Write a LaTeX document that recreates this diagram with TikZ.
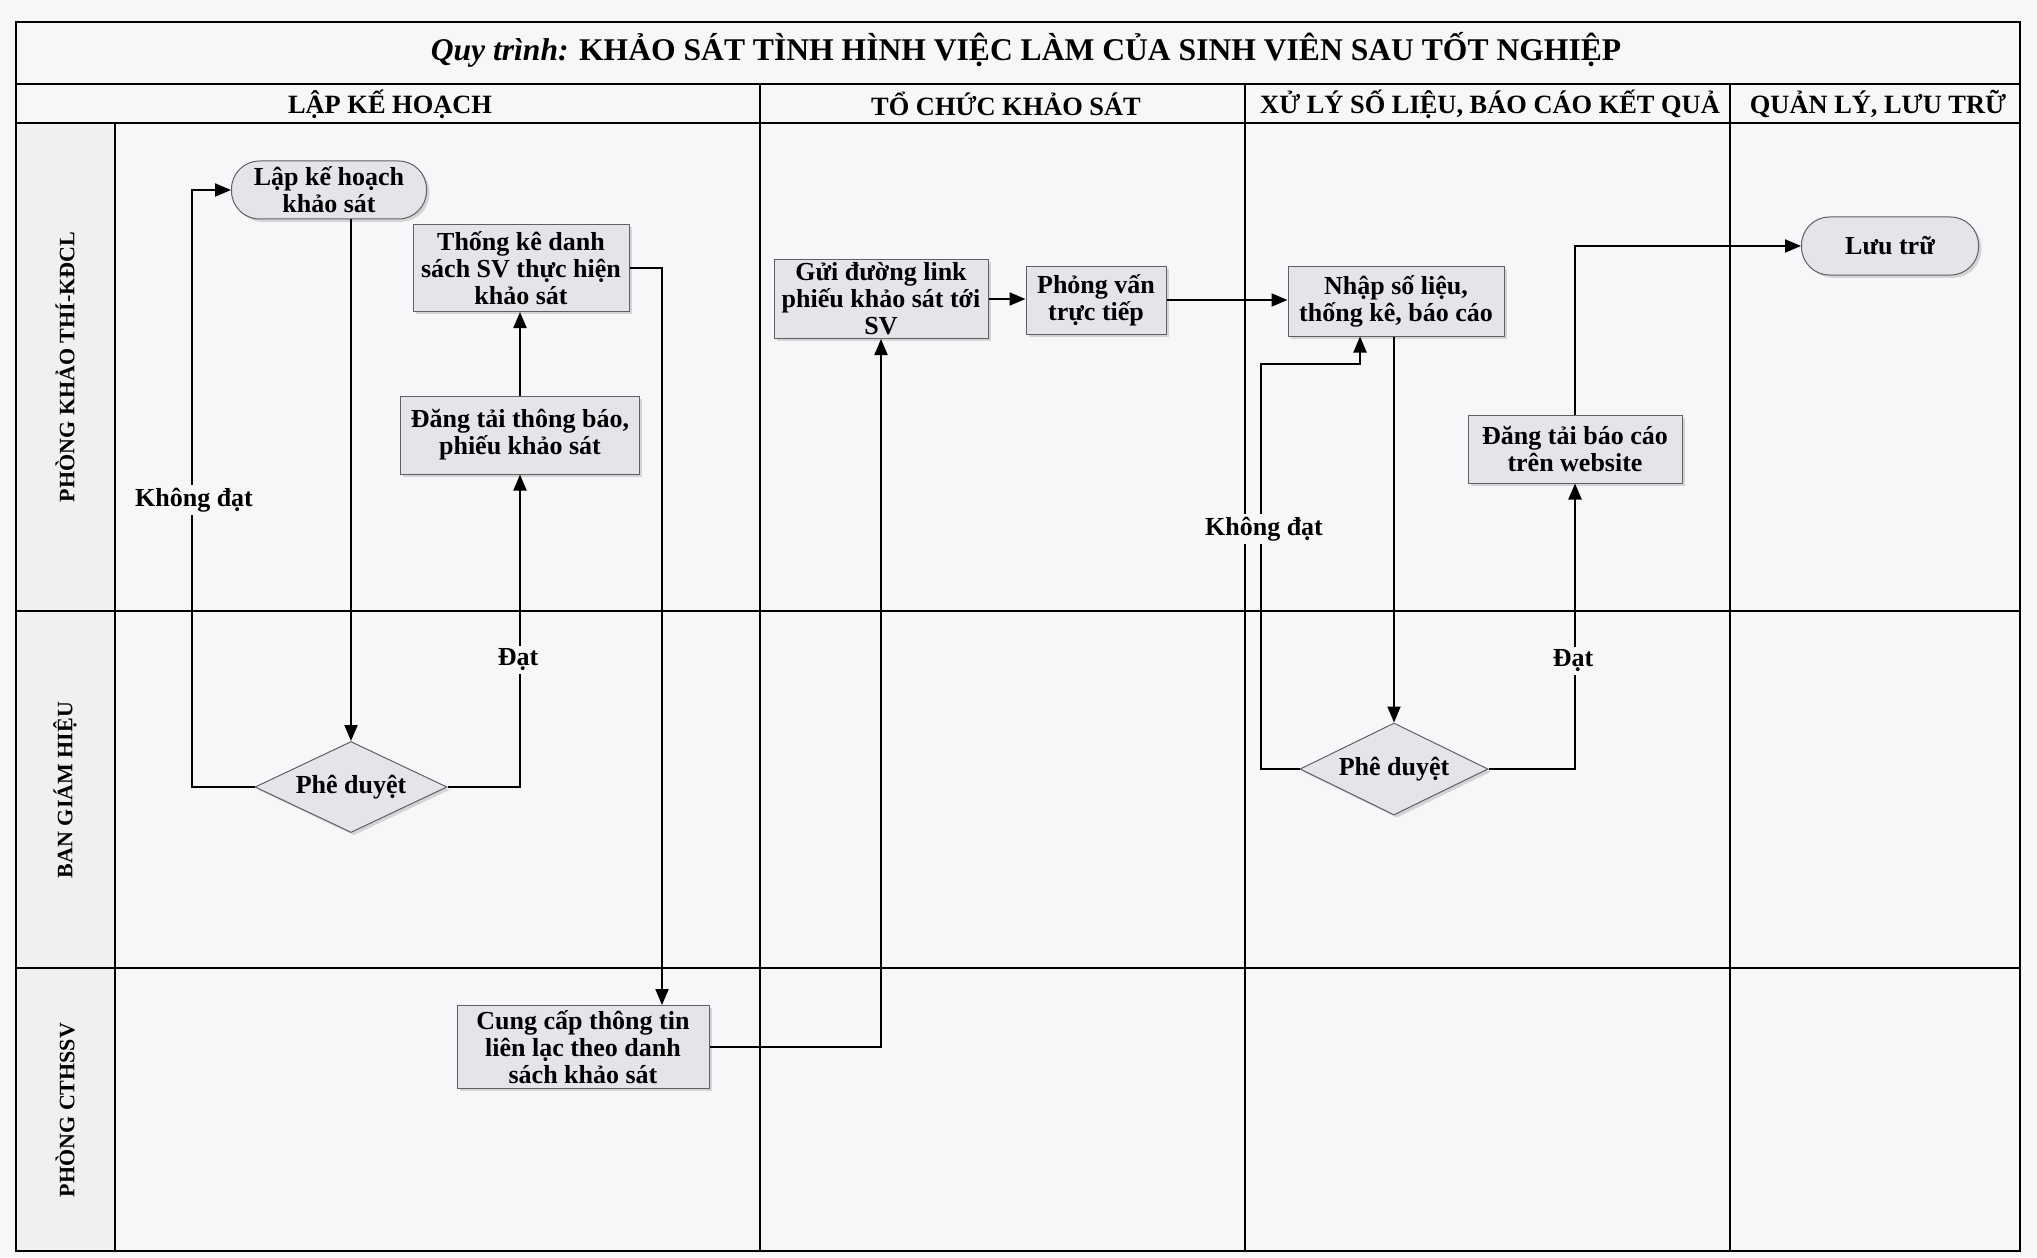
\documentclass[tikz,border=0pt]{standalone}
\usepackage{fontspec}
\setmainfont{Liberation Serif}
\usetikzlibrary{shapes.geometric,shadows,arrows.meta}
\definecolor{paper}{RGB}{247,247,249}
\definecolor{boxfill}{RGB}{228,228,234}
\definecolor{lanefill}{RGB}{240,240,243}
\begin{document}
\begin{tikzpicture}[x=0.5pt,y=-0.5pt,
  proc/.style={draw=gray!75!black, fill=boxfill, line width=0.5pt, align=center, inner sep=1pt,
    font=\fontsize{13}{13.5}\selectfont\bfseries,
    drop shadow={shadow xshift=1.4pt,shadow yshift=-1.4pt,fill=gray!60}},
  term/.style={proc, rounded corners=14pt},
  dec/.style={proc, diamond, aspect=2.1, inner sep=0pt},
  arr/.style={line width=1pt, -{Triangle[length=8pt,width=6.5pt]}},
  lbl/.style={fill=paper, inner sep=1.5pt, font=\fontsize{13}{14}\selectfont\bfseries},
  frameline/.style={line width=1.2pt},
  laneline/.style={line width=1pt},
  hdr/.style={font=\fontsize{13.2}{14}\selectfont\bfseries},
  lanelbl/.style={rotate=90, font=\fontsize{11}{12}\selectfont\bfseries}
]
\useasboundingbox[fill=paper] (0,0) rectangle (2037,1257);
% lane label column
\fill[lanefill] (16,123) rectangle (115,1251);
% grid
\draw[laneline] (16,84) -- (2020,84);
\draw[laneline] (16,123) -- (2020,123);
\draw[laneline] (115,123) -- (115,1251);
\draw[laneline] (760,84) -- (760,1251);
\draw[laneline] (1245,84) -- (1245,1251);
\draw[laneline] (1730,84) -- (1730,1251);
\draw[laneline] (16,611) -- (2020,611);
\draw[laneline] (16,968) -- (2020,968);
\draw[frameline] (16,22) rectangle (2020,1251);

% title and headers
\node[font=\fontsize{15.8}{17}\selectfont\bfseries] (title) at (1026,50) {\textit{Quy trình:} KHẢO SÁT TÌNH HÌNH VIỆC LÀM CỦA SINH VIÊN SAU TỐT NGHIỆP};
\node[hdr] (h1) at (390,104) {LẬP KẾ HOẠCH};
\node[hdr] (h2) at (1006,104) {TỔ CHỨC KHẢO SÁT};
\node[hdr] (h3) at (1490,104) {XỬ LÝ SỐ LIỆU, BÁO CÁO KẾT QUẢ};
\node[hdr] (h4) at (1878,104) {QUẢN LÝ, LƯU TRỮ};
\node[lanelbl] (l1) at (65,367) {PHÒNG KHẢO THÍ-KĐCL};
\node[lanelbl] (l2) at (65,790) {BAN GIÁM HIỆU};
\node[lanelbl] (l3) at (65,1110) {PHÒNG CTHSSV};

% nodes
\node[term, minimum width=97.5pt, minimum height=29pt] (lk) at (329,190) {Lập kế hoạch\\khảo sát};
\node[proc, minimum width=108pt, minimum height=43.5pt] (tk) at (521,268) {Thống kê danh\\sách SV thực hiện\\khảo sát};
\node[proc, minimum width=119.5pt, minimum height=39pt] (dt) at (520,435) {Đăng tải thông báo,\\phiếu khảo sát};
\node[dec, minimum width=96pt, minimum height=45.5pt] (pd1) at (351,787) {Phê duyệt};
\node[proc, minimum width=126pt, minimum height=41.5pt] (cc) at (583,1047) {Cung cấp thông tin\\liên lạc theo danh\\sách khảo sát};
\node[proc, minimum width=107pt, minimum height=39.5pt] (gui) at (881,299) {Gửi đường link\\phiếu khảo sát tới\\SV};
\node[proc, minimum width=70pt, minimum height=34pt] (pv) at (1096,300) {Phỏng vấn\\trực tiếp};
\node[proc, minimum width=108pt, minimum height=35pt] (nh) at (1396,301) {Nhập số liệu,\\thống kê, báo cáo};
\node[dec, minimum width=94pt, minimum height=46pt] (pd2) at (1394,769) {Phê duyệt};
\node[proc, minimum width=107pt, minimum height=34pt] (dtbc) at (1575,449) {Đăng tải báo cáo\\trên website};
\node[term, minimum width=88.5pt, minimum height=29pt] (lt) at (1890,246) {Lưu trữ};

% helper coordinates
\coordinate (k1) at (192,0);
\coordinate (k2) at (662,0);
\coordinate (k3) at (1261,364);
\coordinate (k4) at (1360,0);

% connectors
\draw[arr] (pd1.north |- lk.south) -- (pd1.north);
\draw[arr] (pd1.west) -| (k1 |- lk.west) -- (lk.west);
\draw[arr] (pd1.east) -| (dt.south);
\draw[arr] (dt.north) -- (dt.north |- tk.south);
\draw[arr] (tk.east) -| (k2 |- cc.north);
\draw[arr] (cc.east) -| (gui.south);
\draw[arr] (gui.east) -- (pv.west |- gui.east);
\draw[arr] (pv.east) -- (nh.west |- pv.east);
\draw[arr] (pd2.north |- nh.south) -- (pd2.north);
\draw[arr] (pd2.west) -| (k3) -| (k4 |- nh.south);
\draw[arr] (pd2.east) -| (dtbc.south);
\draw[arr] (dtbc.north) |- (lt.west);

% labels
\node[lbl] (nd1) at (194,500) {Không đạt};
\node[lbl] (d1) at (518,660) {Đạt};
\node[lbl] (nd2) at (1264,529) {Không đạt};
\node[lbl] (d2) at (1573,661) {Đạt};
\end{tikzpicture}
\end{document}
